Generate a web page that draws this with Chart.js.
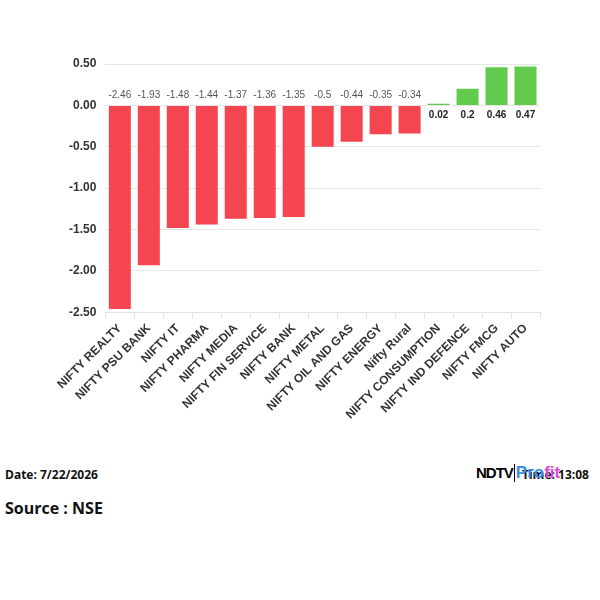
<!DOCTYPE html>
<html>
<head>
<meta charset="utf-8">
<script src="https://cdn.jsdelivr.net/npm/chart.js@4.4.1/dist/chart.umd.min.js"></script>
<style>
  body { margin: 0; background: #fff; width: 600px; height: 600px; position: relative; font-family: "Open Sans", sans-serif; }
  #wrap { position: absolute; left: 0; top: 0; width: 600px; height: 425px; }
  .date { position: absolute; left: 5px; top: 466px; font-size: 12px; font-weight: bold; color: #111; }
  .src { position: absolute; left: 5px; top: 497px; font-size: 16px; font-weight: bold; color: #111; }
  .time { position: absolute; left: 522px; top: 466px; font-size: 12px; font-weight: bold; color: #111; }
  .logo { position: absolute; left: 476px; top: 463px; font-size: 15px; font-weight: 900; font-family: "Liberation Sans", Arial, sans-serif; line-height: 20px; z-index: 2; }
  .logo .n { color: #000; letter-spacing: -1px; background: #fff; }
  .logo .bar { display: inline-block; width: 1px; height: 18px; background: #000; vertical-align: -4px; margin: 0 1px; }
  .logo .p { color: #3a8ee6; font-size: 17px; }
  .logo .p span { color: #d94bd6; }
</style>
</head>
<body>
<div id="wrap"><canvas id="myChart"></canvas></div>
<div class="date">Date: 7/22/2026</div>
<div class="time">Time: 13:08</div>
<div class="logo"><span class="n">NDTV</span><span class="bar"></span><span class="p">Pro<span>fit</span></span></div>
<div class="src">Source : NSE</div>
<script>
const labels = [
  'NIFTY REALTY', 'NIFTY PSU BANK', 'NIFTY IT', 'NIFTY PHARMA', 'NIFTY MEDIA',
  'NIFTY FIN SERVICE', 'NIFTY BANK', 'NIFTY METAL', 'NIFTY OIL AND GAS',
  'NIFTY ENERGY', 'Nifty Rural', 'NIFTY CONSUMPTION', 'NIFTY IND DEFENCE',
  'NIFTY FMCG', 'NIFTY AUTO'
];
const changes = [-2.46, -1.93, -1.48, -1.44, -1.37, -1.36, -1.35, -0.5, -0.44, -0.35, -0.34, 0.02, 0.2, 0.46, 0.47];
const yTicks = [0.5, 0, -0.5, -1, -1.5, -2, -2.5];

const red = 'rgb(245,69,80)';
const green = 'rgb(98,202,76)';

// values drawn next to the zero line: negatives above, positives below
const valueLabels = {
  id: 'valueLabels',
  afterDatasetsDraw(chart) {
    const c = chart.ctx;
    const meta = chart.getDatasetMeta(0);
    const zero = chart.scales.y.getPixelForValue(0);
    c.save();
    c.textAlign = 'center';
    c.textBaseline = 'middle';
    meta.data.forEach((bar, i) => {
      const v = changes[i];
      if (v < 0) {
        c.font = '10px "Liberation Sans", Arial, sans-serif';
        c.fillStyle = '#555';
        c.fillText(String(v), bar.x, zero - 10);
      } else {
        c.font = 'bold 10px "Liberation Sans", Arial, sans-serif';
        c.fillStyle = '#222';
        c.fillText(String(v), bar.x, zero + 10);
      }
    });
    c.restore();
  }
};

const ctx = document.querySelector('#myChart').getContext('2d');
const myChart = new Chart(ctx, {
  type: 'bar',
  data: {
    labels,
    datasets: [{
      data: changes,
      backgroundColor: changes.map(v => v < 0 ? red : green),
      barPercentage: 0.76,
      categoryPercentage: 1
    }]
  },
  options: {
    responsive: true,
    maintainAspectRatio: false,
    animation: false,
    layout: { padding: { left: 60, right: 60, top: 64, bottom: 0 } },
    plugins: { legend: { display: false }, tooltip: { enabled: false } },
    scales: {
      x: {
        grid: { color: '#e2e2e2', drawOnChartArea: false, tickLength: 6 },
        border: { color: '#e2e2e2' },
        ticks: {
          maxRotation: 45, minRotation: 45, autoSkip: false,
          color: '#333',
          font: { family: '"Liberation Sans", Arial, sans-serif', size: 12, weight: 'bold' }
        }
      },
      y: {
        min: -2.5, max: 0.5,
        afterBuildTicks(axis) { axis.ticks = yTicks.map(v => ({ value: v })); },
        grid: { color: '#e6e6e6', drawTicks: false },
        border: { display: false },
        ticks: {
          padding: 9,
          color: '#333',
          font: { family: '"Liberation Sans", Arial, sans-serif', size: 12, weight: 'bold' },
          callback: v => v.toFixed(2)
        }
      }
    }
  },
  plugins: [valueLabels]
});
</script>
</body>
</html>
